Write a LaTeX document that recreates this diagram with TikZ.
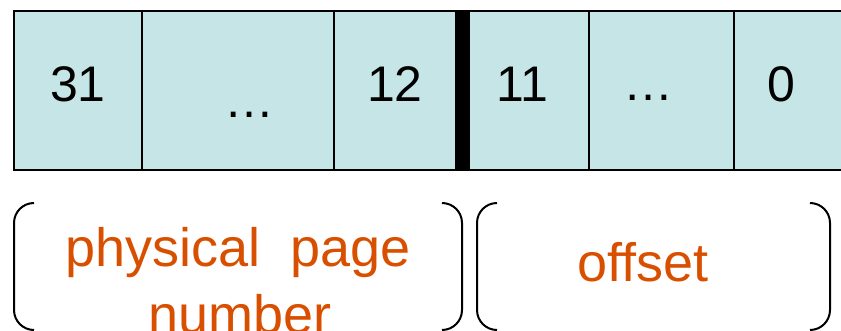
\documentclass[tikz,border=0pt]{standalone}
\usepackage{fontspec}
\setmainfont{Liberation Sans}
\definecolor{cellfill}{RGB}{197,229,231}
\definecolor{labelorange}{RGB}{217,79,0}
\begin{document}
\begin{tikzpicture}[x=1pt,y=-1pt,
  thinline/.style={line width=2pt,black},
  bitlabel/.style={font=\fontsize{50}{60}\selectfont,anchor=base,inner sep=0pt},
  fieldlabel/.style={font=\fontsize{54}{66}\selectfont,anchor=base,inner sep=0pt,text=labelorange},
  bracket/.style={line width=2pt,black,rounded corners=20pt}]
\useasboundingbox (0,0) rectangle (841,331);
% register
\path[fill=cellfill] (14,11) rectangle (850,170);
\draw[thinline] (850,11) -- (14,11) -- (14,170) -- (850,170);
\draw[thinline] (142,11) -- (142,170);
\draw[thinline] (334,11) -- (334,170);
\draw[thinline] (589,11) -- (589,170);
\draw[thinline] (734,11) -- (734,170);
\fill[black] (455,11) rectangle (470,170);
% bit labels
\node[bitlabel] (b31) at (78,102) {31};
\node[bitlabel] (d1) at (249,117.5) {…};
\node[bitlabel] (b12) at (395,102) {12};
\node[bitlabel] (b11) at (522,102) {11};
\node[bitlabel] (d2) at (648.5,100.5) {…};
\node[bitlabel] (b0) at (781.5,102) {0};
% brackets
\draw[bracket] (34,203) -- (14,203) -- (14,330) -- (34,330);
\draw[bracket] (442,203) -- (462,203) -- (462,330) -- (442,330);
\draw[bracket] (497,203) -- (477,203) -- (477,330) -- (497,330);
\draw[bracket] (810,203) -- (830,203) -- (830,330) -- (810,330);
% field labels
\node[fieldlabel] (ppn1) at (238,267) {physical\ \ page};
\node[fieldlabel] (ppn2) at (240,333) {number};
\node[fieldlabel] (off) at (643,282) {offset};
\end{tikzpicture}
\end{document}
